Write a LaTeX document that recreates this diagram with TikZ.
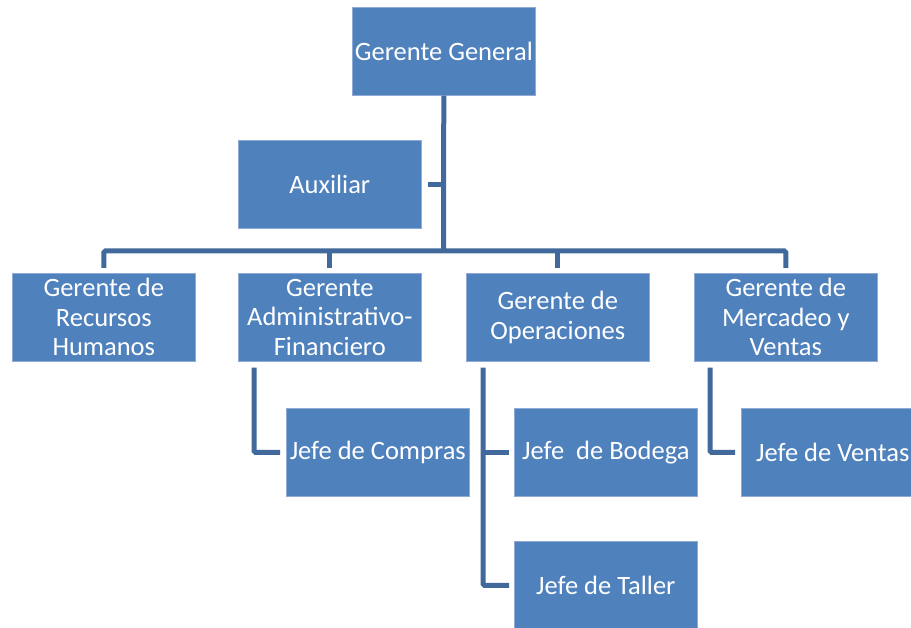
\documentclass[tikz,border=0pt]{standalone}
\usepackage{fontspec}
\setmainfont{Carlito}
\definecolor{boxblue}{HTML}{4F81BD}
\definecolor{boxedge}{HTML}{8FAAD6}
\definecolor{linkblue}{HTML}{41699C}
\begin{document}
\begin{tikzpicture}[x=1pt,y=1pt,
  box/.style={rectangle, fill=boxblue, draw=boxedge, line width=0.6pt, minimum width=183pt, minimum height=88pt, inner sep=1pt, anchor=north west, text=white, align=center, font=\fontsize{26.5}{29.5}\selectfont},
  conn/.style={draw=linkblue, line width=5pt, rounded corners=1.5pt}]
\useasboundingbox (0,0) rectangle (911,-628);
\clip (0,0) rectangle (911,-628);
\node[box] (gg) at (352,-7) {Gerente General};
\node[box] (aux) at (238,-140) {Auxiliar};
\node[box] (rh) at (12,-273) {Gerente de\\Recursos\\Humanos};
\node[box] (adm) at (238,-273) {Gerente\\Administrativo-\\Financiero};
\node[box] (ops) at (466,-273) {Gerente de\\Operaciones};
\node[box] (mv) at (694,-273) {Gerente de\\Mercadeo y\\Ventas};
\node[box] (jc) at (286,-408) {Jefe de Compras};
\node[box] (jb) at (514,-408) {Jefe\ \ de Bodega};
\node[box] (jt) at (514,-541) {Jefe de Taller};
\node[box] (jv) at (741,-408) {Jefe de Ventas};
\coordinate (jn) at (443.5,-251);
\draw[conn] (gg.south) -- (jn);
\draw[conn] ([xshift=6pt]aux.east) -- (aux.east -| jn);
\draw[conn] ([yshift=5pt]rh.north) -- (rh.north |- jn) -- (mv.north |- jn) -- ([yshift=5pt]mv.north);
\draw[conn] ([yshift=5pt]adm.north) -- (adm.north |- jn);
\draw[conn] ([yshift=5pt]ops.north) -- (ops.north |- jn);
\draw[conn] ([xshift=16pt,yshift=-6pt]adm.south west) |- ([xshift=-6pt]jc.west);
\coordinate (opsl) at ([xshift=17pt,yshift=-6pt]ops.south west);
\draw[conn] (opsl) |- ([xshift=-5pt]jt.west);
\draw[conn] (opsl |- jb.west) -- ([xshift=-5pt]jb.west);
\draw[conn] ([xshift=16pt,yshift=-6pt]mv.south west) |- ([xshift=-6pt]jv.west);
\end{tikzpicture}
\end{document}
